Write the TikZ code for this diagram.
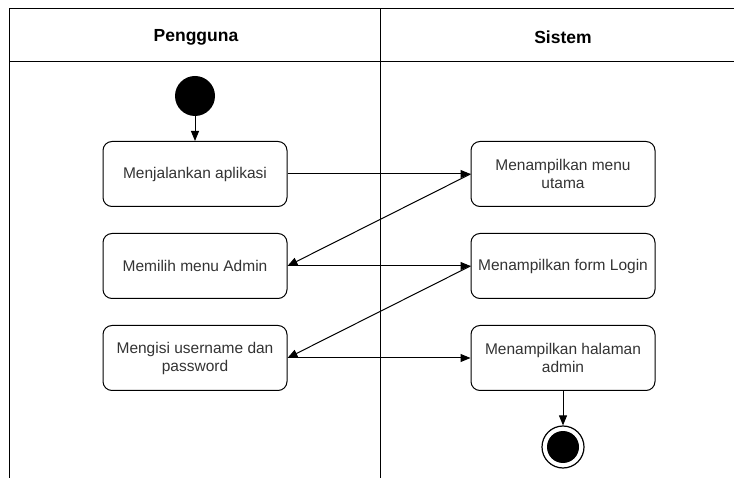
\documentclass[tikz,border=0pt]{standalone}
\usepackage{fontspec}
\setmainfont{Liberation Sans}
\usetikzlibrary{arrows.meta}
\definecolor{txt}{HTML}{333333}
\begin{document}
\begin{tikzpicture}[x=1pt,y=-1pt,
  lane/.style={line width=1pt},
  act/.style={draw, line width=1pt, rounded corners=9pt, minimum width=184pt,
    minimum height=65pt, align=center, text=txt, font=\fontsize{15.5}{18}\selectfont,
    inner sep=1pt},
  flow/.style={line width=1pt, -{Triangle[length=10pt,width=8pt]}},
  hdr/.style={font=\bfseries\fontsize{17.5}{20}\selectfont}]
\useasboundingbox (0,0) rectangle (734,478);
% swimlane frame
\draw[lane] (9,478) -- (9,9) -- (734,9);
\draw[lane] (9,62) -- (734,62);
\draw[lane] (380,9) -- (380,478);
\node[hdr] (h1) at (196,37) {Pengguna};
\node[hdr] (h2) at (563,37) {Sistem};
% start and end
\node[circle, fill=black, minimum size=40pt, inner sep=0pt] (start) at (195,96) {};
\node[circle, draw, line width=1.2pt, minimum size=42pt, inner sep=0pt] (endo) at (563,447) {};
\node[circle, fill=black, minimum size=32pt, inner sep=0pt] (endi) at (563,447) {};
% activities
\node[act] (a1) at (195,174) {Menjalankan aplikasi};
\node[act] (a2) at (195,266) {Memilih menu Admin};
\node[act] (a3) at (195,358) {Mengisi username dan\\password};
\node[act] (b1) at (563,174) {Menampilkan menu\\utama};
\node[act] (b2) at (563,266) {Menampilkan form Login};
\node[act] (b3) at (563,358) {Menampilkan halaman\\admin};
% transitions
\draw[flow] (start) -- (a1);
\draw[flow] (a1) -- (b1);
\draw[flow] (b1.west) -- (a2.east);
\draw[flow] (a2) -- (b2);
\draw[flow] (b2.west) -- (a3.east);
\draw[flow] (a3) -- (b3);
\draw[flow] (b3) -- (endo);
\end{tikzpicture}
\end{document}
